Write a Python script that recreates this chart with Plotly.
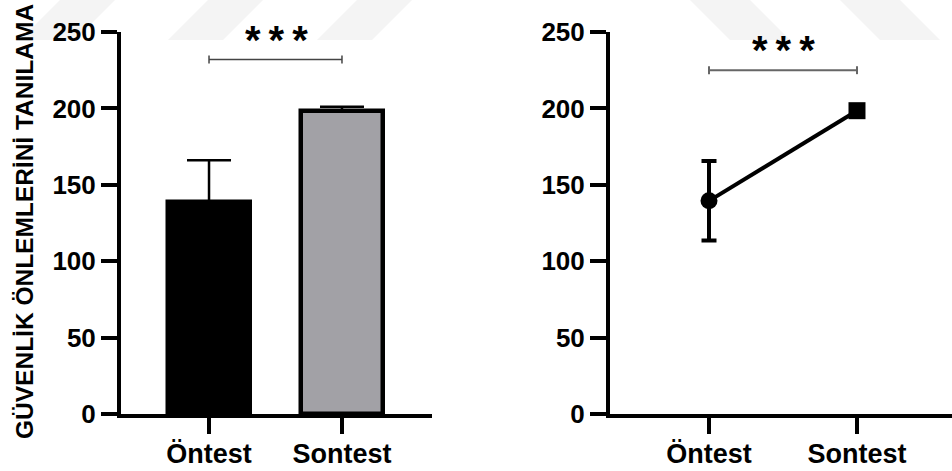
import plotly.graph_objects as go

# ---- data ----
categories = ["Öntest", "Sontest"]
bar_means = [139, 198]
bar_err_up = [27, 3]
line_means = [139.5, 198.5]
line_err = [26, 0]
y_ticks = [0, 50, 100, 150, 200, 250]
y_title = "GÜVENLİK ÖNLEMLERİNİ TANILAMA"
sig_label = "*\u2009*\u2009*"
sig_y_left = 232
sig_y_right = 225

W, H = 952, 471
FONT = "Liberation Sans"

def px_x(p):
    return p / W

def px_y(p):
    return 1 - p / H

fig = go.Figure()

# watermark (faint stripes)
stripes_left = [20, 168, 317]
for b in stripes_left:
    fig.add_shape(type="path", xref="paper", yref="paper",
                  path=f"M {px_x(b)},{px_y(40)} L {px_x(b+55)},{px_y(40)} L {px_x(b+95)},{px_y(0)} L {px_x(b+40)},{px_y(0)} Z",
                  fillcolor="#f4f4f4", line=dict(width=0), layer="below")
stripes_right = [690, 840]
for b in stripes_right:
    fig.add_shape(type="path", xref="paper", yref="paper",
                  path=f"M {px_x(b)},{px_y(0)} L {px_x(b+60)},{px_y(0)} L {px_x(b+100)},{px_y(40)} L {px_x(b+40)},{px_y(40)} Z",
                  fillcolor="#f4f4f4", line=dict(width=0), layer="below")

xs = list(range(len(categories)))

fig.add_trace(go.Bar(
    x=xs, y=bar_means, width=0.62,
    marker=dict(color=["#000000", "#a2a1a6"], line=dict(color="black", width=4.5)),
    error_y=dict(type="data", symmetric=False, array=bar_err_up, arrayminus=[0, 0],
                 color="black", thickness=2.5, width=22),
    xaxis="x", yaxis="y", showlegend=False,
))

fig.add_trace(go.Scatter(
    x=xs, y=line_means, mode="lines+markers",
    line=dict(color="black", width=4),
    marker=dict(symbol=["circle", "square"], size=[17, 17], color="#000000",
                line=dict(width=0), opacity=1),
    error_y=dict(type="data", array=line_err, color="black", thickness=4, width=7.5),
    xaxis="x2", yaxis="y2", showlegend=False,
))

# significance brackets
for xr, yr, yv, col, lw in [("x", "y", sig_y_left, "#444444", 1.5), ("x2", "y2", sig_y_right, "#666666", 2)]:
    fig.add_shape(type="line", xref=xr, yref=yr, x0=0, x1=1, y0=yv, y1=yv, line=dict(color=col, width=lw))
    for xv in (0, 1):
        fig.add_shape(type="line", xref=xr, yref=yr, x0=xv, x1=xv, y0=yv - 2.6, y1=yv + 2.6,
                      line=dict(color=col, width=lw))

fig.add_annotation(x=0.51, y=sig_y_left + 12.5, xref="x", yref="y", text=sig_label, showarrow=False,
                   font=dict(family=FONT, size=40, color="black", weight="bold"), yanchor="middle")
fig.add_annotation(x=0.5, y=sig_y_right + 13.5, xref="x2", yref="y2", text=sig_label, showarrow=False,
                   font=dict(family=FONT, size=40, color="black", weight="bold"), yanchor="middle")

fig.add_annotation(x=px_x(24), y=px_y(222), xref="paper", yref="paper", text=y_title,
                   textangle=-90, showarrow=False, xanchor="center", yanchor="middle",
                   font=dict(family=FONT, size=24.5, color="black", weight="bold"))

ytickfont = dict(family=FONT, size=26, color="black", weight="bold")
xtickfont = dict(family=FONT, size=27, color="black", weight="bold")
common_x = dict(showline=True, linewidth=4, linecolor="black", ticks="outside", ticklen=16,
                tickwidth=4, tickcolor="black", tickvals=xs, ticktext=categories,
                showgrid=False, zeroline=False, tickfont=xtickfont, automargin=False,
                ticklabelstandoff=-3)
common_y = dict(showline=True, linewidth=4, linecolor="black", ticks="outside", ticklen=16,
                tickwidth=4, tickcolor="black", tickvals=y_ticks, range=[0, 250],
                showgrid=False, zeroline=False, tickfont=ytickfont, automargin=False,
                domain=[px_y(414), px_y(32)])

fig.update_layout(
    width=W, height=H, margin=dict(l=0, r=0, t=0, b=0, pad=0, autoexpand=False),
    paper_bgcolor="white", plot_bgcolor="rgba(0,0,0,0)",
    xaxis=dict(domain=[px_x(121), px_x(432)], range=[-0.662, 1.677], anchor="y", **common_x),
    yaxis=dict(anchor="x", **common_y),
    xaxis2=dict(domain=[px_x(610), 1], range=[-0.669, 1.642], anchor="y2", **common_x),
    yaxis2=dict(anchor="x2", **common_y),
    bargap=0,
)

fig.write_html("out.html", config={"displayModeBar": False},
               post_script="document.body.style.margin='0px';document.body.style.padding='0px';document.body.style.overflow='hidden';")
